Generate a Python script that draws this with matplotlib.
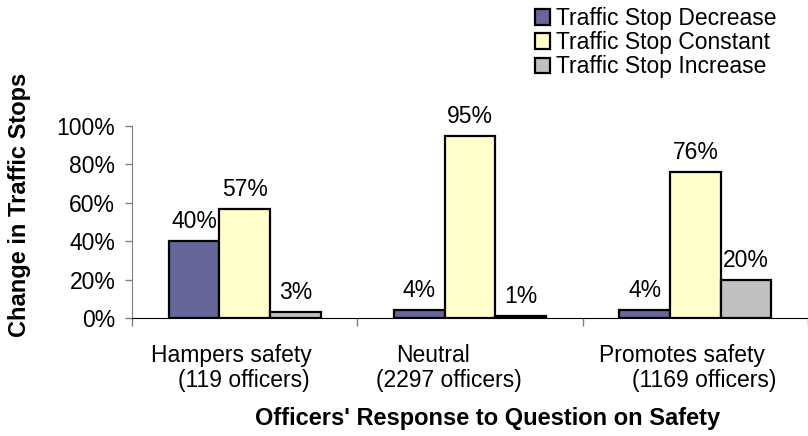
import numpy as np
import matplotlib
matplotlib.use("Agg")
import matplotlib.pyplot as plt
from matplotlib.ticker import PercentFormatter

plt.rcParams['font.family'] = ['Liberation Sans', 'DejaVu Sans']

# data
groups = ["Hampers safety", "Neutral", "Promotes safety"]
officers = ["(119 officers)", "(2297 officers)", "(1169 officers)"]
series = ["Traffic Stop Decrease", "Traffic Stop Constant", "Traffic Stop Increase"]
decrease = [40, 4, 4]
constant = [57, 95, 76]
increase = [3, 1, 20]
colors = ["#666699", "#FFFFCC", "#C0C0C0"]

FS = 16.5
fig = plt.figure(figsize=(8.08, 4.36), dpi=100)
W, H = 808, 436
ax = fig.add_axes([132 / W, (H - 318) / H, (808 - 132) / W, 192 / H])

x = np.arange(len(groups))
bw = 0.225
for k, (vals, col, name) in enumerate(zip([decrease, constant, increase], colors, series)):
    pos = x + (k - 1) * bw
    ax.bar(pos, vals, width=bw, color=col, edgecolor="black", linewidth=1.6, label=name)
    for p, v in zip(pos, vals):
        ax.annotate(f"{v}%", (p, v), xytext=(0, 14), textcoords="offset points",
                    ha="center", va="center", fontsize=FS)

ax.set_ylim(0, 100)
ax.set_xlim(-0.5, 2.43)
ax.set_yticks(np.arange(0, 101, 20))
ax.yaxis.set_major_formatter(PercentFormatter(decimals=0))
ax.tick_params(axis="y", labelsize=FS, length=5, color="#808080", width=1, pad=7)
ax.set_xticks(np.arange(-0.5, 3, 1))
ax.set_xticklabels([])
ax.tick_params(axis="x", length=6, color="#808080", width=1)
for s in ["top", "right"]:
    ax.spines[s].set_visible(False)
ax.spines["left"].set_color("#808080")
ax.spines["bottom"].set_color("black")
ax.spines["left"].set_bounds(0, 100)

# category labels (two lines, Excel style offsets)
tr = ax.get_xaxis_transform()
off1 = [-14, -38, -14]
off2 = [-1, -21, 9]
for i in range(len(groups)):
    ax.text(i + off1[i] / 229, (318 - 355) / 192, groups[i], transform=tr,
            ha="center", va="center", fontsize=FS)
    ax.text(i + off2[i] / 229, (318 - 380) / 192, officers[i], transform=tr,
            ha="center", va="center", fontsize=FS)

fig.text(488 / W, 1 - 418 / H, "Officers' Response to Question on Safety",
         ha="center", va="center", fontsize=17, fontweight="bold")
fig.text(20 / W, 1 - 205 / H, "Change in Traffic Stops", rotation=90,
         ha="center", va="center", fontsize=17, fontweight="bold")

fig.legend(loc="upper left", bbox_to_anchor=(535 / W, 1 - 7 / H), bbox_transform=fig.transFigure,
           frameon=False, fontsize=FS, borderpad=0, borderaxespad=0, labelspacing=0.05,
           handlelength=0.65, handleheight=0.65, handletextpad=0.25)

fig.savefig("out.png", dpi=100)
